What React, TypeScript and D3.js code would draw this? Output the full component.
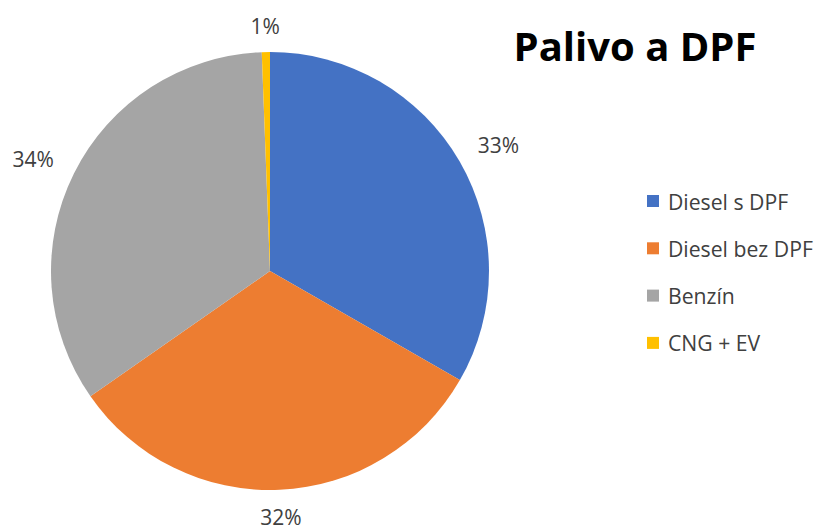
import React from "react";
import * as d3 from "d3";

const categories = ["Diesel s DPF", "Diesel bez DPF", "Benzín", "CNG + EV"];
const values = [33.3, 32.0, 34.1, 0.6];
const labels = ["33%", "32%", "34%", "1%"];
const colors = ["#4472C4", "#ED7D31", "#A5A5A5", "#FFC000"];

const W = 824, H = 531;
const cx = 270, cy = 271, R = 219;

export default function App() {
  const pie = d3.pie<number>().sort(null).value((d) => d)(values);
  const arc = d3.arc<d3.PieArcDatum<number>>().innerRadius(0).outerRadius(R);
  const font = "'Open Sans', sans-serif";
  return (
    <svg width={W} height={H} style={{ position: "absolute", left: 0, top: 0, background: "#fff" }}>
      <g transform={`translate(${cx},${cy})`}>
        {pie.map((p, i) => (
          <path key={i} d={arc(p) || ""} fill={colors[i]} />
        ))}
        {pie.map((p, i) => {
          const a = (p.startAngle + p.endAngle) / 2;
          const r = 245 + 16 * Math.abs(Math.sin(a));
          const x = Math.sin(a) * r * 1.02;
          const y = -Math.cos(a) * r + 4 * Math.abs(Math.sin(a));
          return (
            <text key={i} x={x} y={y} textAnchor="middle" dominantBaseline="central"
              fontFamily={font} fontSize={21} fill="#404040">{labels[i]}</text>
          );
        })}
      </g>
      <text x={635} y={61} textAnchor="middle" fontFamily={font} fontWeight={700} fontSize={40} fill="#000">Palivo a DPF</text>
      {categories.map((c, i) => (
        <g key={c} transform={`translate(647,${201 + i * 47.3})`}>
          <rect x={0} y={-6} width={12} height={12} fill={colors[i]} />
          <text x={21} y={0} dominantBaseline="central" fontFamily={font} fontSize={21.2} fill="#404040">{c}</text>
        </g>
      ))}
    </svg>
  );
}
